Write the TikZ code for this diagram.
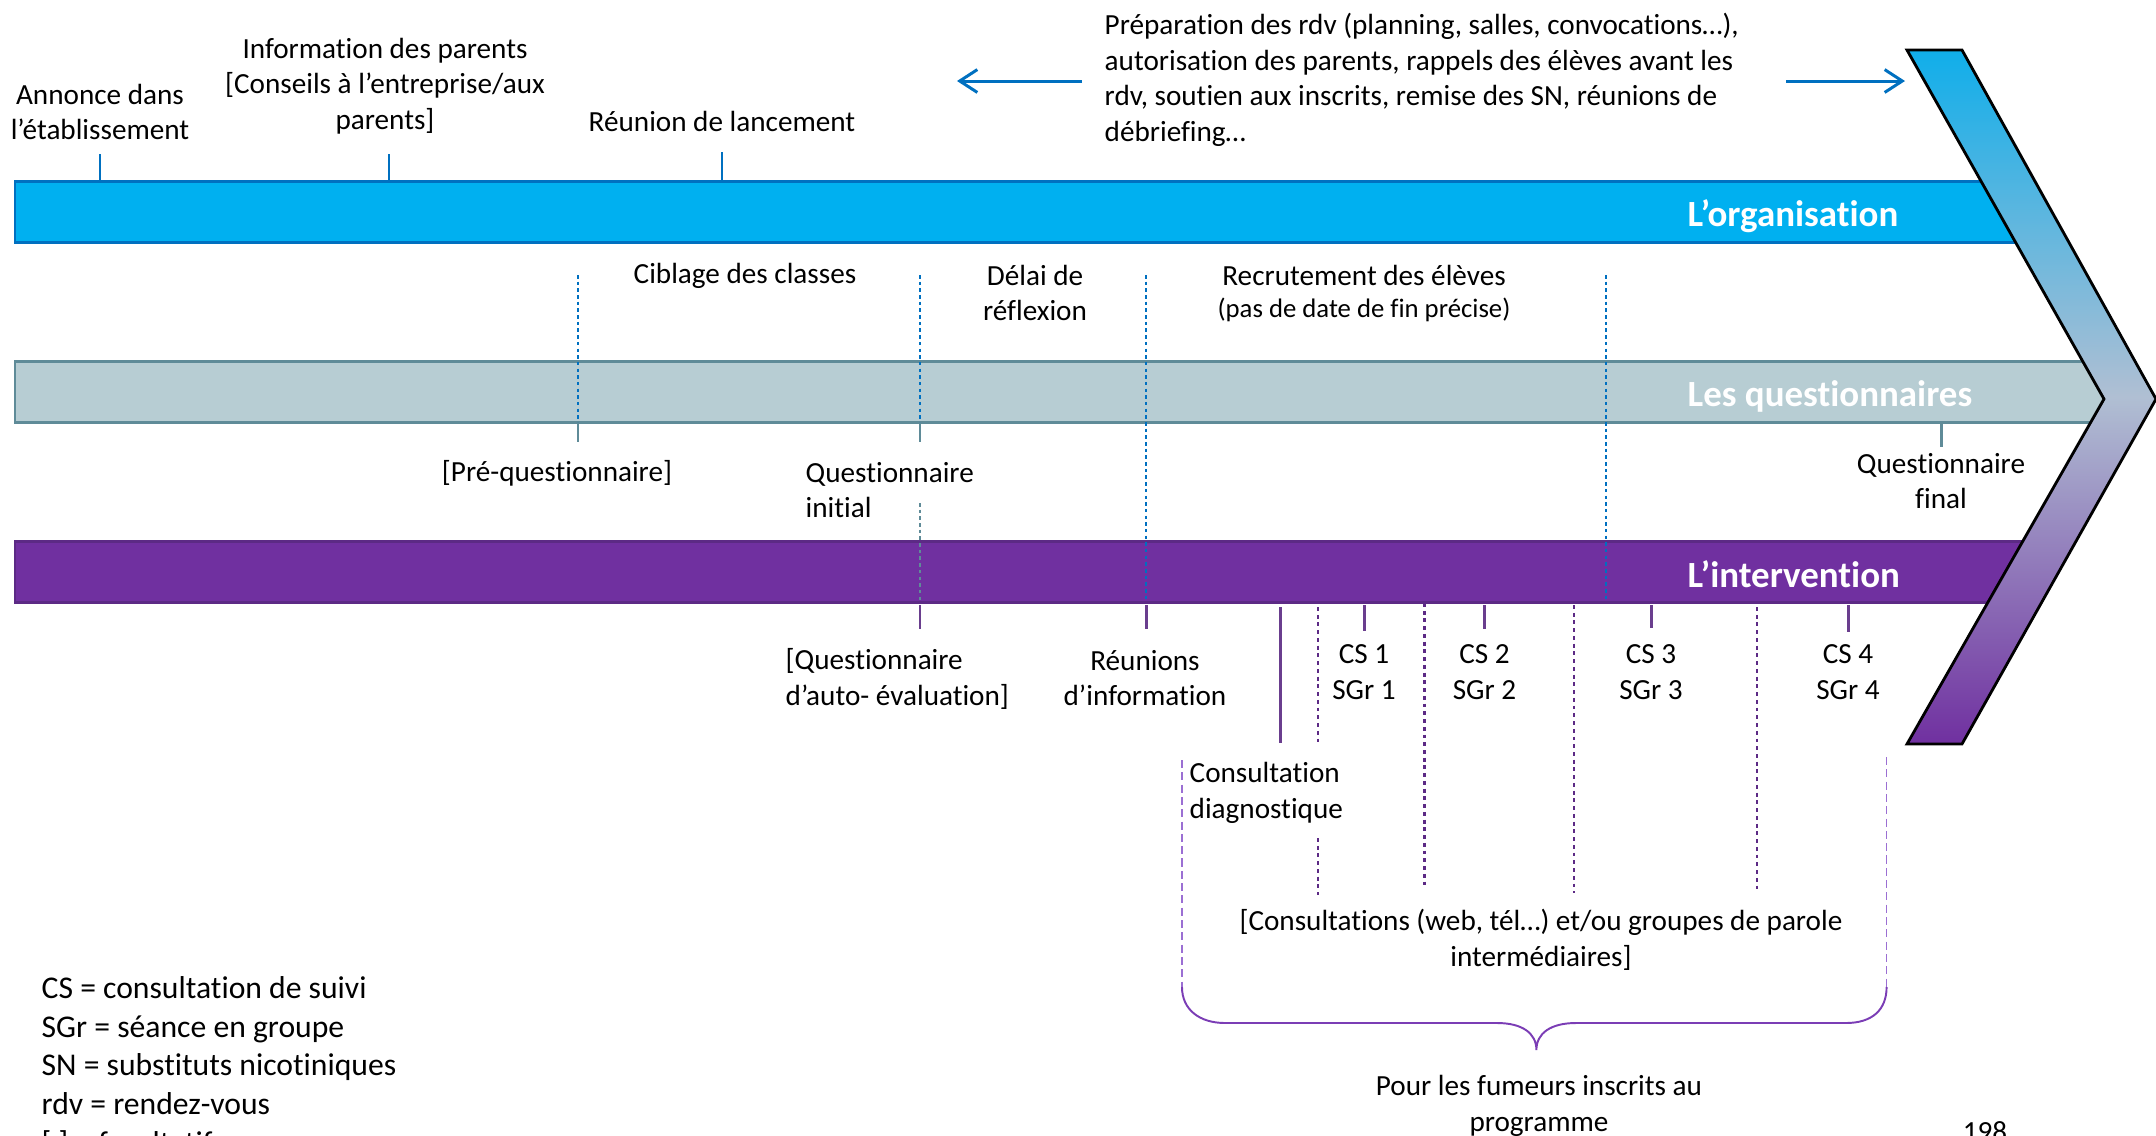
\documentclass[tikz,border=0pt]{standalone}
\usepackage{fontspec}
\setmainfont{Carlito}[Ligatures={NoCommon}]
\usetikzlibrary{arrows.meta}
\definecolor{orgfill}{HTML}{00B0F0}
\definecolor{orgline}{HTML}{0070C0}
\definecolor{qfill}{HTML}{B7CDD3}
\definecolor{qline}{HTML}{5F8B98}
\definecolor{ifill}{HTML}{7030A0}
\definecolor{iline}{HTML}{5C2A85}
\definecolor{itick}{HTML}{6A3E8E}
\definecolor{ldash}{HTML}{9B6FD3}
\definecolor{brc}{HTML}{7B3DB5}
\definecolor{chtop}{HTML}{10AEEA}
\definecolor{chmid}{HTML}{B0BFD3}
\begin{document}
\begin{tikzpicture}[x=0.01cm,y=-0.01cm,
  txt/.style={font=\fontsize{8.3}{10.1}\selectfont, align=center, inner sep=0pt, text=black},
  small/.style={font=\fontsize{7.6}{9.2}\selectfont, align=center, inner sep=0pt},
  legend/.style={font=\fontsize{9}{11}\selectfont, align=left, inner sep=0pt},
  barlbl/.style={font=\fontsize{10.5}{12.6}\selectfont\bfseries, text=white, inner sep=0pt, anchor=west},
  orgtick/.style={draw=orgline, line width=0.85pt},
  qtick/.style={draw=qline, line width=0.85pt},
  itickst/.style={draw=itick, line width=0.85pt},
  bluedot/.style={draw=orgline, line width=0.8pt, dash pattern=on 1pt off 0.9pt},
  tealdot/.style={draw=qline, line width=0.8pt, dash pattern=on 1pt off 0.9pt},
  purpdot/.style={draw=iline, line width=0.8pt, dash pattern=on 1.1pt off 1.1pt},
  lightdash/.style={draw=ldash, line width=0.45pt, dash pattern=on 2.3pt off 1.2pt},
  bluearrow/.style={draw=orgline, line width=0.85pt, -{Straight Barb[length=5pt,width=6.5pt]}}
]
\useasboundingbox (0,0) rectangle (2156,1135);

% bars
\filldraw[fill=orgfill, draw=orgline, line width=0.85pt] (15,181) rectangle (2030,242);
\filldraw[fill=qfill, draw=qline, line width=0.85pt] (15,361) rectangle (2110,422);
\filldraw[fill=ifill, draw=iline, line width=0.85pt] (15,541) rectangle (2035,602);

% chevron
\shadedraw[top color=chtop, bottom color=ifill, middle color=chmid, draw=black, line width=0.8pt]
  (1907,50) -- (1962,50) -- (2156,399) -- (1962,744) -- (1907,744) -- (2104,399) -- cycle;

% bar labels
\node[barlbl] (lorg) at (1687,216) {L’organisation};
\node[barlbl] (lq) at (1687,396) {Les questionnaires};
\node[barlbl] (lint) at (1687,574) {L’intervention};

% top labels
\node[txt] (ann) at (100,112) {Annonce dans\\l’établissement};
\node[txt] (info) at (385,86) {Information des parents\\{[}Conseils à l’entreprise/aux\\parents]};
\node[txt] (lanc) at (722,121) {Réunion de lancement};
\node[txt, align=left, anchor=west] (prep) at (1104,80) {Préparation des rdv (planning, salles, convocations…),\\autorisation des parents, rappels des élèves avant les\\rdv, soutien aux inscrits, remise des SN, réunions de\\débriefing…};

\draw[orgtick] (100,154) -- (100,181);
\draw[orgtick] (389,154) -- (389,181);
\draw[orgtick] (722,152) -- (722,181);

\coordinate (la1) at (1082,81);
\coordinate (la2) at (957,81);
\coordinate (ra1) at (1786,81);
\coordinate (ra2) at (1905,81);
\draw[bluearrow] (la1) -- (la2);
\draw[bluearrow] (ra1) -- (ra2);

% middle labels
\node[txt] (cib) at (745,276) {Ciblage des classes};
\node[txt] (delai) at (1035,293) {Délai de\\réflexion};
\node[txt] (recr) at (1364,275) {Recrutement des élèves};
\node[small] (pas) at (1364,310) {(pas de date de fin précise)};

\draw[bluedot] (578,275) -- (578,422);
\draw[bluedot] (920,275) -- (920,422);
\draw[bluedot] (1146,275) -- (1146,602);
\draw[bluedot] (1606,275) -- (1606,602);

\draw[qtick] (578,423) -- (578,442);
\draw[qtick] (920,423) -- (920,442);
\draw[qtick] (1941.6,423) -- (1941.6,447);

\node[txt] (preq) at (557,473) {[Pré-questionnaire]};
\node[txt, align=left, anchor=west] (qinit) at (805,490) {Questionnaire\\initial};
\node[txt] (qfin) at (1941,481) {Questionnaire\\final};

\draw[tealdot] (920,503) -- (920,602);

% intervention ticks
\draw[itickst] (920,605) -- (920,629);
\draw[itickst] (1146,605) -- (1146,629);
\draw[itickst] (1364,605) -- (1364,631);
\draw[itickst] (1484.5,605) -- (1484.5,629);
\draw[itickst] (1651,605) -- (1651,628);
\draw[itickst] (1848,605) -- (1848,632);
\draw[itickst] (1280,607) -- (1280,743);

\draw[purpdot] (1318,607) -- (1318,742);
\draw[purpdot] (1318,838) -- (1318,895);
\draw[purpdot] (1424.5,603) -- (1424.5,888);
\draw[purpdot] (1574,605) -- (1574,893);
\draw[purpdot] (1757,607) -- (1757,892);

\node[txt, align=left, anchor=west] (qauto) at (785,679) {{[}Questionnaire\\d’auto- évaluation]};
\node[txt] (reun) at (1145,678) {Réunions\\d’information};
\node[txt] (cs1) at (1364,672) {CS 1\\SGr 1};
\node[txt] (cs2) at (1484.5,672) {CS 2\\SGr 2};
\node[txt] (cs3) at (1651,672) {CS 3\\SGr 3};
\node[txt] (cs4) at (1848,672) {CS 4\\SGr 4};

\node[txt, align=left, anchor=west] (diag) at (1189,793) {Consultation\\diagnostique};
\node[txt] (consw) at (1541,940) {{[}Consultations (web, tél…) et/ou groupes de parole\\intermédiaires]};

% brace
\draw[lightdash] (1182,760) -- (1182,987);
\draw[lightdash] (1886.6,757) -- (1886.6,987);
\coordinate (bl) at (1182,987);
\coordinate (br) at (1886.6,987);
\coordinate (btip) at (1536.4,1050);
\draw[draw=brc, line width=0.55pt] (bl) .. controls (1182,1010) and (1200,1023) .. (1225,1023)
  -- (1497,1023) .. controls (1522,1023) and (1536.4,1033) .. (btip)
  .. controls (1536.4,1033) and (1551,1023) .. (1576,1023)
  -- (1846,1023) .. controls (1872,1023) and (1886.6,1010) .. (br);

\node[txt] (pour) at (1539,1106) {Pour les fumeurs inscrits au\\programme};
\node[txt, anchor=base] (page) at (1985,1141) {198};

% legend
\node[legend, anchor=west] (leg) at (41,1067) {CS = consultation de suivi\\SGr = séance en groupe\\SN = substituts nicotiniques\\rdv = rendez-vous\\{[} ] = facultatif};
\end{tikzpicture}
\end{document}
